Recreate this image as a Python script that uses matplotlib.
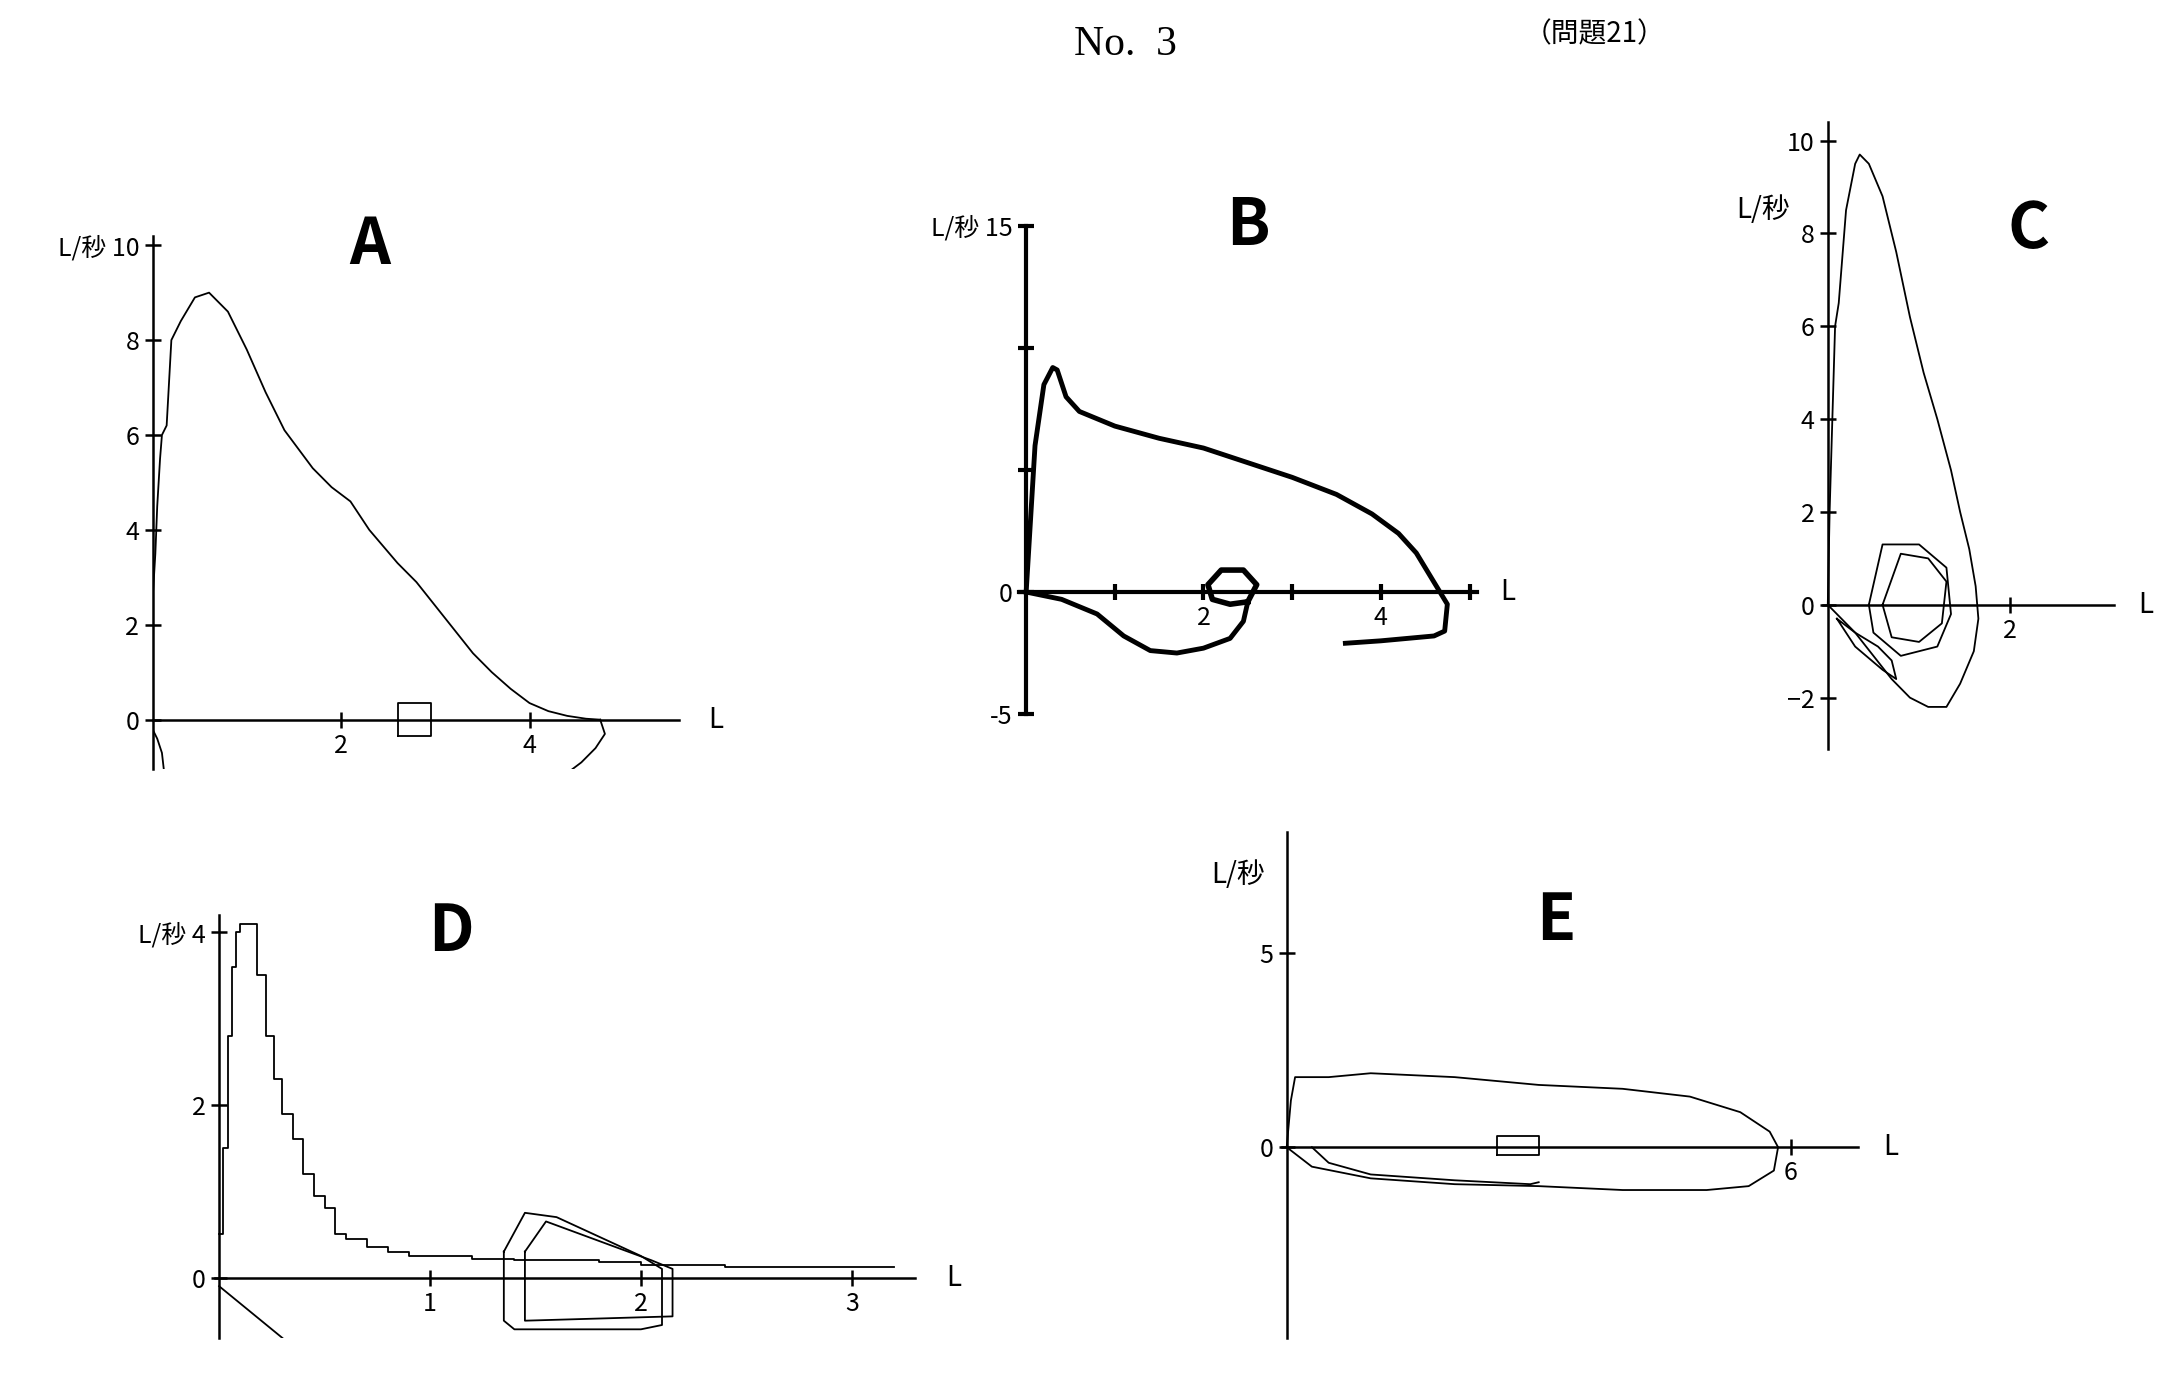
import numpy as np
import matplotlib.pyplot as plt

plt.rcParams['font.family'] = ['Noto Sans CJK JP', 'DejaVu Sans']

# ---- data (volume L, flow L/s) ----
a_vol = [0, 0, 0.03, 0.05, 0.08, 0.1, 0.15, 0.2, 0.3, 0.45, 0.6, 0.8, 1.0, 1.2, 1.4, 1.7, 1.9, 2.1, 2.3, 2.6, 2.8, 3.0, 3.2, 3.4, 3.6, 3.8, 4.0, 4.2, 4.4, 4.6, 4.75]
a_flow = [0, 2.5, 3.5, 4.5, 5.5, 6.0, 6.2, 8.0, 8.4, 8.9, 9.0, 8.6, 7.8, 6.9, 6.1, 5.3, 4.9, 4.6, 4.0, 3.3, 2.9, 2.4, 1.9, 1.4, 1.0, 0.65, 0.35, 0.18, 0.08, 0.02, 0]
a_insp_vol = [4.75, 4.8, 4.7, 4.55, 4.45]
a_insp_flow = [0, -0.3, -0.6, -0.9, -1.05]
a_start_vol = [0, 0.05, 0.1, 0.12]
a_start_flow = [-0.2, -0.4, -0.7, -1.05]
a_box_vol = [2.6, 2.95, 2.95, 2.6, 2.6]
a_box_flow = [-0.35, -0.35, 0.35, 0.35, -0.35]

b_vol = [0, 0.05, 0.1, 0.2, 0.3, 0.35, 0.45, 0.6, 1.0, 1.5, 2.0, 2.5, 3.0, 3.5, 3.9, 4.2, 4.4, 4.55, 4.65, 4.75, 4.72, 4.6, 4.3, 4.0, 3.6]
b_flow = [0, 3, 6, 8.5, 9.2, 9.1, 8.0, 7.4, 6.8, 6.3, 5.9, 5.3, 4.7, 4.0, 3.2, 2.4, 1.6, 0.7, 0.1, -0.5, -1.6, -1.8, -1.9, -2.0, -2.1]
b_insp_vol = [0, 0.4, 0.8, 1.1, 1.4, 1.7, 2.0, 2.3, 2.45, 2.5]
b_insp_flow = [0, -0.3, -0.9, -1.8, -2.4, -2.5, -2.3, -1.9, -1.2, -0.4]
b_loop_vol = [2.5, 2.6, 2.45, 2.2, 2.05, 2.1, 2.3, 2.5]
b_loop_flow = [-0.4, 0.3, 0.9, 0.9, 0.3, -0.3, -0.5, -0.4]

c_vol = [0, 0.02, 0.05, 0.08, 0.12, 0.2, 0.3, 0.35, 0.45, 0.6, 0.75, 0.9, 1.05, 1.2, 1.35, 1.45, 1.55, 1.62, 1.65, 1.6, 1.45, 1.3, 1.1, 0.9, 0.7, 0.5, 0.3, 0.1, 0]
c_flow = [0, 2, 4, 6, 6.5, 8.5, 9.5, 9.7, 9.5, 8.8, 7.6, 6.2, 5.0, 4.0, 2.9, 2.0, 1.2, 0.4, -0.3, -1.0, -1.7, -2.2, -2.2, -2.0, -1.6, -1.1, -0.6, -0.2, 0]
c_loops = [
    ([0.45, 0.6, 1.0, 1.3, 1.35, 1.2, 0.8, 0.5, 0.45], [0, 1.3, 1.3, 0.8, -0.2, -0.9, -1.1, -0.6, 0]),
    ([0.6, 0.8, 1.1, 1.3, 1.25, 1.0, 0.7, 0.6], [0, 1.1, 1.0, 0.5, -0.4, -0.8, -0.7, 0]),
    ([0.1, 0.3, 0.6, 0.75, 0.7, 0.55, 0.3, 0.1], [-0.3, -0.9, -1.4, -1.6, -1.2, -0.9, -0.6, -0.3]),
]

d_vol = [0, 0.02, 0.04, 0.06, 0.08, 0.1, 0.14, 0.18, 0.22, 0.26, 0.3, 0.35, 0.4, 0.45, 0.5, 0.55, 0.6, 0.7, 0.8, 0.9, 1.0, 1.2, 1.4, 1.6, 1.8, 2.0, 2.2, 2.4, 2.6, 2.8, 3.0, 3.2]
d_flow = [0.5, 1.5, 2.8, 3.6, 4.0, 4.1, 4.1, 3.5, 2.8, 2.3, 1.9, 1.6, 1.2, 0.95, 0.8, 0.5, 0.45, 0.35, 0.3, 0.25, 0.25, 0.22, 0.2, 0.2, 0.18, 0.15, 0.15, 0.12, 0.12, 0.12, 0.12, 0.12]
d_insp_vol = [0, 0.1, 0.2, 0.3]
d_insp_flow = [-0.1, -0.3, -0.5, -0.7]
d_loops = [
    ([1.35, 1.45, 1.6, 2.0, 2.1, 2.1, 2.0, 1.4, 1.35, 1.35], [0.3, 0.75, 0.7, 0.25, 0.1, -0.55, -0.6, -0.6, -0.5, 0.3]),
    ([1.45, 1.55, 2.05, 2.15, 2.15, 1.45, 1.45], [0.3, 0.65, 0.2, 0.1, -0.45, -0.5, 0.3]),
]

e_vol = [0, 0.05, 0.1, 0.5, 1.0, 2.0, 3.0, 4.0, 4.8, 5.4, 5.75, 5.85, 5.8, 5.5, 5.0, 4.0, 3.0, 2.0, 1.0, 0.3, 0]
e_flow = [0, 1.2, 1.8, 1.8, 1.9, 1.8, 1.6, 1.5, 1.3, 0.9, 0.4, 0, -0.6, -1.0, -1.1, -1.1, -1.0, -0.95, -0.8, -0.5, 0]
e_inner_vol = [0.3, 0.5, 1.0, 2.0, 2.9, 3.0]
e_inner_flow = [0, -0.4, -0.7, -0.85, -0.95, -0.9]
e_box_vol = [2.5, 3.0, 3.0, 2.5, 2.5]
e_box_flow = [-0.2, -0.2, 0.3, 0.3, -0.2]

W, H = 1568, 991


def panel(x0, x1, y0, y1, xlim, ylim):
    ax = fig.add_axes([x0 / W, 1 - y1 / H, (x1 - x0) / W, (y1 - y0) / H])
    ax.set_xlim(*xlim)
    ax.set_ylim(*ylim)
    ax.patch.set_alpha(0)
    for s in ['top', 'right']:
        ax.spines[s].set_visible(False)
    ax.spines['left'].set_position(('data', 0))
    ax.spines['bottom'].set_position(('data', 0))
    ax.spines['left'].set_linewidth(1.8)
    ax.spines['bottom'].set_linewidth(1.8)
    ax.tick_params(direction='inout', length=12, width=1.8, labelsize=18)
    return ax


fig = plt.figure(figsize=(21.74, 13.74), dpi=100)
fig.text(812 / W, 1 - 32 / H, 'No.  3', fontsize=30, family='Liberation Serif', ha='center', va='center')
fig.text(1150 / W, 1 - 25 / H, '（問題21）', fontsize=20, ha='center', va='center')

lw = 1.3
# A
ax = panel(110, 490, 170, 555, (0, 5.59), (-1.05, 10.2))
ax.plot(a_vol, a_flow, 'k', lw=lw)
ax.plot(a_insp_vol, a_insp_flow, 'k', lw=lw)
ax.plot(a_start_vol, a_start_flow, 'k', lw=lw)
ax.plot(a_box_vol, a_box_flow, 'k', lw=lw)
ax.set_xticks([2, 4]); ax.set_yticks([0, 2, 4, 6, 8, 10])
ax.set_yticklabels(['0', '2', '4', '6', '8', 'L/秒 10'])
ax.text(5.9, 0, 'L', fontsize=20, va='center')
ax.text(2.3, 10, 'A', fontsize=46, weight='bold', ha='center', va='center')

# B
ax = panel(735, 1065, 163, 515, (-0.08, 5.08), (-5, 15))
ax.plot(b_vol, b_flow, 'k', lw=3.5)
ax.plot(b_insp_vol, b_insp_flow, 'k', lw=3.5)
ax.plot(b_loop_vol, b_loop_flow, 'k', lw=4)
ax.set_xticks([1, 2, 3, 4, 5]); ax.set_xticklabels(['', '2', '', '4', ''])
ax.set_yticks([-5, 0, 5, 10, 15]); ax.set_yticklabels(['-5', '0', '', '', 'L/秒 15'])
ax.spines['left'].set_linewidth(3); ax.spines['bottom'].set_linewidth(3)
ax.tick_params(width=3)
ax.text(5.35, 0, 'L', fontsize=20, va='center')
ax.text(2.5, 15, 'B', fontsize=46, weight='bold', ha='center', va='center')

# C
ax = panel(1315, 1525, 88, 540, (-0.05, 3.14), (-3.1, 10.4))
ax.plot(c_vol, c_flow, 'k', lw=lw)
for vx, vy in c_loops:
    ax.plot(vx, vy, 'k', lw=lw)
ax.set_xticks([2]); ax.set_yticks([-2, 0, 2, 4, 6, 8, 10])
ax.text(3.4, 0, 'L', fontsize=20, va='center')
ax.text(-1.0, 8.5, 'L/秒', fontsize=20, va='center')
ax.text(2.2, 8.1, 'C', fontsize=46, weight='bold', ha='center', va='center')

# D
ax = panel(155, 660, 660, 965, (-0.02, 3.3), (-0.7, 4.2))
ax.plot(d_vol, d_flow, 'k', lw=lw, drawstyle='steps-post')
ax.plot(d_insp_vol, d_insp_flow, 'k', lw=lw)
for vx, vy in d_loops:
    ax.plot(vx, vy, 'k', lw=lw)
ax.set_xticks([1, 2, 3]); ax.set_yticks([0, 2, 4])
ax.set_yticklabels(['0', '2', 'L/秒 4'])
ax.text(3.45, 0, 'L', fontsize=20, va='center')
ax.text(1.1, 4.0, 'D', fontsize=46, weight='bold', ha='center', va='center')

# E
ax = panel(925, 1340, 600, 965, (-0.05, 6.8), (-4.9, 8.1))
ax.plot(e_vol, e_flow, 'k', lw=lw)
ax.plot(e_inner_vol, e_inner_flow, 'k', lw=lw)
ax.plot(e_box_vol, e_box_flow, 'k', lw=lw)
ax.set_xticks([6]); ax.set_yticks([0, 5])
ax.text(7.1, 0, 'L', fontsize=20, va='center')
ax.text(-0.9, 7.0, 'L/秒', fontsize=20, va='center')
ax.text(3.2, 5.8, 'E', fontsize=46, weight='bold', ha='center', va='center')

fig.savefig('out.png', dpi=100)
